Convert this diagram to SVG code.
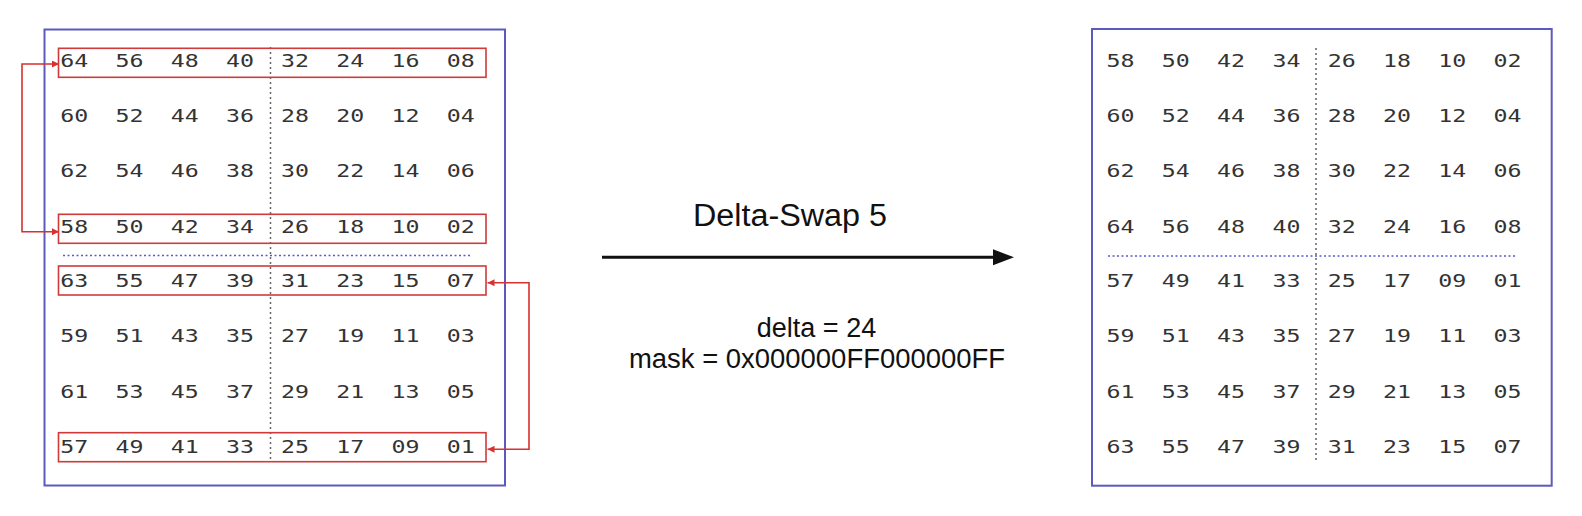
<svg xmlns="http://www.w3.org/2000/svg" width="1582" height="516" viewBox="0 0 1582 516">
<style>
.panel{fill:#fff;stroke:#5a5abf;stroke-width:2}
.sel{fill:none;stroke:#d03a3a;stroke-width:1.6}
.n{font-family:'DejaVu Sans Mono',monospace;font-size:18px;fill:#333}
.vd{stroke:#666;stroke-width:1.5;stroke-dasharray:2 3}
.hd{stroke:#5a5ad0;stroke-width:1.5;stroke-dasharray:2 2.5}
.red{fill:none;stroke:#d93030;stroke-width:1.6}
.lab{font-family:'Liberation Sans',Arial,sans-serif;fill:#111;text-anchor:middle}
</style>
<defs>
<marker id="rh" viewBox="0 0 10 10" refX="10" refY="5" markerWidth="7" markerHeight="7" orient="auto-start-reverse" markerUnits="userSpaceOnUse">
<path d="M0,0 L10,5 L0,10 z" fill="#d93030"/>
</marker>
</defs>
<rect width="1582" height="516" fill="#fff"/>

<g id="left-matrix">
<rect class="panel" x="44.5" y="29.5" width="460.5" height="456"/>
<line class="vd" x1="270.5" y1="47" x2="270.5" y2="462"/>
<line class="hd" x1="63" y1="255.5" x2="472" y2="255.5"/>
<rect class="sel" x="58.5" y="48.3" width="427.5" height="29"/>
<rect class="sel" x="58.5" y="214.3" width="427.5" height="29"/>
<rect class="sel" x="58.5" y="266" width="427.5" height="29"/>
<rect class="sel" x="58.5" y="432.7" width="427.5" height="29"/>
<g class="n">
<text x="60.3" y="66.7" textLength="28" lengthAdjust="spacingAndGlyphs">64</text><text x="115.5" y="66.7" textLength="28" lengthAdjust="spacingAndGlyphs">56</text><text x="170.7" y="66.7" textLength="28" lengthAdjust="spacingAndGlyphs">48</text><text x="225.9" y="66.7" textLength="28" lengthAdjust="spacingAndGlyphs">40</text><text x="281.1" y="66.7" textLength="28" lengthAdjust="spacingAndGlyphs">32</text><text x="336.3" y="66.7" textLength="28" lengthAdjust="spacingAndGlyphs">24</text><text x="391.5" y="66.7" textLength="28" lengthAdjust="spacingAndGlyphs">16</text><text x="446.7" y="66.7" textLength="28" lengthAdjust="spacingAndGlyphs">08</text>
<text x="60.3" y="121.7" textLength="28" lengthAdjust="spacingAndGlyphs">60</text><text x="115.5" y="121.7" textLength="28" lengthAdjust="spacingAndGlyphs">52</text><text x="170.7" y="121.7" textLength="28" lengthAdjust="spacingAndGlyphs">44</text><text x="225.9" y="121.7" textLength="28" lengthAdjust="spacingAndGlyphs">36</text><text x="281.1" y="121.7" textLength="28" lengthAdjust="spacingAndGlyphs">28</text><text x="336.3" y="121.7" textLength="28" lengthAdjust="spacingAndGlyphs">20</text><text x="391.5" y="121.7" textLength="28" lengthAdjust="spacingAndGlyphs">12</text><text x="446.7" y="121.7" textLength="28" lengthAdjust="spacingAndGlyphs">04</text>
<text x="60.3" y="177.2" textLength="28" lengthAdjust="spacingAndGlyphs">62</text><text x="115.5" y="177.2" textLength="28" lengthAdjust="spacingAndGlyphs">54</text><text x="170.7" y="177.2" textLength="28" lengthAdjust="spacingAndGlyphs">46</text><text x="225.9" y="177.2" textLength="28" lengthAdjust="spacingAndGlyphs">38</text><text x="281.1" y="177.2" textLength="28" lengthAdjust="spacingAndGlyphs">30</text><text x="336.3" y="177.2" textLength="28" lengthAdjust="spacingAndGlyphs">22</text><text x="391.5" y="177.2" textLength="28" lengthAdjust="spacingAndGlyphs">14</text><text x="446.7" y="177.2" textLength="28" lengthAdjust="spacingAndGlyphs">06</text>
<text x="60.3" y="232.9" textLength="28" lengthAdjust="spacingAndGlyphs">58</text><text x="115.5" y="232.9" textLength="28" lengthAdjust="spacingAndGlyphs">50</text><text x="170.7" y="232.9" textLength="28" lengthAdjust="spacingAndGlyphs">42</text><text x="225.9" y="232.9" textLength="28" lengthAdjust="spacingAndGlyphs">34</text><text x="281.1" y="232.9" textLength="28" lengthAdjust="spacingAndGlyphs">26</text><text x="336.3" y="232.9" textLength="28" lengthAdjust="spacingAndGlyphs">18</text><text x="391.5" y="232.9" textLength="28" lengthAdjust="spacingAndGlyphs">10</text><text x="446.7" y="232.9" textLength="28" lengthAdjust="spacingAndGlyphs">02</text>
<text x="60.3" y="287.2" textLength="28" lengthAdjust="spacingAndGlyphs">63</text><text x="115.5" y="287.2" textLength="28" lengthAdjust="spacingAndGlyphs">55</text><text x="170.7" y="287.2" textLength="28" lengthAdjust="spacingAndGlyphs">47</text><text x="225.9" y="287.2" textLength="28" lengthAdjust="spacingAndGlyphs">39</text><text x="281.1" y="287.2" textLength="28" lengthAdjust="spacingAndGlyphs">31</text><text x="336.3" y="287.2" textLength="28" lengthAdjust="spacingAndGlyphs">23</text><text x="391.5" y="287.2" textLength="28" lengthAdjust="spacingAndGlyphs">15</text><text x="446.7" y="287.2" textLength="28" lengthAdjust="spacingAndGlyphs">07</text>
<text x="60.3" y="342.2" textLength="28" lengthAdjust="spacingAndGlyphs">59</text><text x="115.5" y="342.2" textLength="28" lengthAdjust="spacingAndGlyphs">51</text><text x="170.7" y="342.2" textLength="28" lengthAdjust="spacingAndGlyphs">43</text><text x="225.9" y="342.2" textLength="28" lengthAdjust="spacingAndGlyphs">35</text><text x="281.1" y="342.2" textLength="28" lengthAdjust="spacingAndGlyphs">27</text><text x="336.3" y="342.2" textLength="28" lengthAdjust="spacingAndGlyphs">19</text><text x="391.5" y="342.2" textLength="28" lengthAdjust="spacingAndGlyphs">11</text><text x="446.7" y="342.2" textLength="28" lengthAdjust="spacingAndGlyphs">03</text>
<text x="60.3" y="397.9" textLength="28" lengthAdjust="spacingAndGlyphs">61</text><text x="115.5" y="397.9" textLength="28" lengthAdjust="spacingAndGlyphs">53</text><text x="170.7" y="397.9" textLength="28" lengthAdjust="spacingAndGlyphs">45</text><text x="225.9" y="397.9" textLength="28" lengthAdjust="spacingAndGlyphs">37</text><text x="281.1" y="397.9" textLength="28" lengthAdjust="spacingAndGlyphs">29</text><text x="336.3" y="397.9" textLength="28" lengthAdjust="spacingAndGlyphs">21</text><text x="391.5" y="397.9" textLength="28" lengthAdjust="spacingAndGlyphs">13</text><text x="446.7" y="397.9" textLength="28" lengthAdjust="spacingAndGlyphs">05</text>
<text x="60.3" y="452.9" textLength="28" lengthAdjust="spacingAndGlyphs">57</text><text x="115.5" y="452.9" textLength="28" lengthAdjust="spacingAndGlyphs">49</text><text x="170.7" y="452.9" textLength="28" lengthAdjust="spacingAndGlyphs">41</text><text x="225.9" y="452.9" textLength="28" lengthAdjust="spacingAndGlyphs">33</text><text x="281.1" y="452.9" textLength="28" lengthAdjust="spacingAndGlyphs">25</text><text x="336.3" y="452.9" textLength="28" lengthAdjust="spacingAndGlyphs">17</text><text x="391.5" y="452.9" textLength="28" lengthAdjust="spacingAndGlyphs">09</text><text x="446.7" y="452.9" textLength="28" lengthAdjust="spacingAndGlyphs">01</text>
</g>
</g>

<g id="right-matrix">
<rect class="panel" x="1092" y="29" width="459.7" height="456.7"/>
<line class="vd" x1="1316" y1="48" x2="1316" y2="462"/>
<line class="hd" x1="1108" y1="256" x2="1517" y2="256"/>
<g class="n">
<text x="1106.5" y="66.7" textLength="28" lengthAdjust="spacingAndGlyphs">58</text><text x="1161.8" y="66.7" textLength="28" lengthAdjust="spacingAndGlyphs">50</text><text x="1217.1" y="66.7" textLength="28" lengthAdjust="spacingAndGlyphs">42</text><text x="1272.4" y="66.7" textLength="28" lengthAdjust="spacingAndGlyphs">34</text><text x="1327.7" y="66.7" textLength="28" lengthAdjust="spacingAndGlyphs">26</text><text x="1383" y="66.7" textLength="28" lengthAdjust="spacingAndGlyphs">18</text><text x="1438.3" y="66.7" textLength="28" lengthAdjust="spacingAndGlyphs">10</text><text x="1493.6" y="66.7" textLength="28" lengthAdjust="spacingAndGlyphs">02</text>
<text x="1106.5" y="121.7" textLength="28" lengthAdjust="spacingAndGlyphs">60</text><text x="1161.8" y="121.7" textLength="28" lengthAdjust="spacingAndGlyphs">52</text><text x="1217.1" y="121.7" textLength="28" lengthAdjust="spacingAndGlyphs">44</text><text x="1272.4" y="121.7" textLength="28" lengthAdjust="spacingAndGlyphs">36</text><text x="1327.7" y="121.7" textLength="28" lengthAdjust="spacingAndGlyphs">28</text><text x="1383" y="121.7" textLength="28" lengthAdjust="spacingAndGlyphs">20</text><text x="1438.3" y="121.7" textLength="28" lengthAdjust="spacingAndGlyphs">12</text><text x="1493.6" y="121.7" textLength="28" lengthAdjust="spacingAndGlyphs">04</text>
<text x="1106.5" y="177.2" textLength="28" lengthAdjust="spacingAndGlyphs">62</text><text x="1161.8" y="177.2" textLength="28" lengthAdjust="spacingAndGlyphs">54</text><text x="1217.1" y="177.2" textLength="28" lengthAdjust="spacingAndGlyphs">46</text><text x="1272.4" y="177.2" textLength="28" lengthAdjust="spacingAndGlyphs">38</text><text x="1327.7" y="177.2" textLength="28" lengthAdjust="spacingAndGlyphs">30</text><text x="1383" y="177.2" textLength="28" lengthAdjust="spacingAndGlyphs">22</text><text x="1438.3" y="177.2" textLength="28" lengthAdjust="spacingAndGlyphs">14</text><text x="1493.6" y="177.2" textLength="28" lengthAdjust="spacingAndGlyphs">06</text>
<text x="1106.5" y="232.9" textLength="28" lengthAdjust="spacingAndGlyphs">64</text><text x="1161.8" y="232.9" textLength="28" lengthAdjust="spacingAndGlyphs">56</text><text x="1217.1" y="232.9" textLength="28" lengthAdjust="spacingAndGlyphs">48</text><text x="1272.4" y="232.9" textLength="28" lengthAdjust="spacingAndGlyphs">40</text><text x="1327.7" y="232.9" textLength="28" lengthAdjust="spacingAndGlyphs">32</text><text x="1383" y="232.9" textLength="28" lengthAdjust="spacingAndGlyphs">24</text><text x="1438.3" y="232.9" textLength="28" lengthAdjust="spacingAndGlyphs">16</text><text x="1493.6" y="232.9" textLength="28" lengthAdjust="spacingAndGlyphs">08</text>
<text x="1106.5" y="287.2" textLength="28" lengthAdjust="spacingAndGlyphs">57</text><text x="1161.8" y="287.2" textLength="28" lengthAdjust="spacingAndGlyphs">49</text><text x="1217.1" y="287.2" textLength="28" lengthAdjust="spacingAndGlyphs">41</text><text x="1272.4" y="287.2" textLength="28" lengthAdjust="spacingAndGlyphs">33</text><text x="1327.7" y="287.2" textLength="28" lengthAdjust="spacingAndGlyphs">25</text><text x="1383" y="287.2" textLength="28" lengthAdjust="spacingAndGlyphs">17</text><text x="1438.3" y="287.2" textLength="28" lengthAdjust="spacingAndGlyphs">09</text><text x="1493.6" y="287.2" textLength="28" lengthAdjust="spacingAndGlyphs">01</text>
<text x="1106.5" y="342.2" textLength="28" lengthAdjust="spacingAndGlyphs">59</text><text x="1161.8" y="342.2" textLength="28" lengthAdjust="spacingAndGlyphs">51</text><text x="1217.1" y="342.2" textLength="28" lengthAdjust="spacingAndGlyphs">43</text><text x="1272.4" y="342.2" textLength="28" lengthAdjust="spacingAndGlyphs">35</text><text x="1327.7" y="342.2" textLength="28" lengthAdjust="spacingAndGlyphs">27</text><text x="1383" y="342.2" textLength="28" lengthAdjust="spacingAndGlyphs">19</text><text x="1438.3" y="342.2" textLength="28" lengthAdjust="spacingAndGlyphs">11</text><text x="1493.6" y="342.2" textLength="28" lengthAdjust="spacingAndGlyphs">03</text>
<text x="1106.5" y="397.9" textLength="28" lengthAdjust="spacingAndGlyphs">61</text><text x="1161.8" y="397.9" textLength="28" lengthAdjust="spacingAndGlyphs">53</text><text x="1217.1" y="397.9" textLength="28" lengthAdjust="spacingAndGlyphs">45</text><text x="1272.4" y="397.9" textLength="28" lengthAdjust="spacingAndGlyphs">37</text><text x="1327.7" y="397.9" textLength="28" lengthAdjust="spacingAndGlyphs">29</text><text x="1383" y="397.9" textLength="28" lengthAdjust="spacingAndGlyphs">21</text><text x="1438.3" y="397.9" textLength="28" lengthAdjust="spacingAndGlyphs">13</text><text x="1493.6" y="397.9" textLength="28" lengthAdjust="spacingAndGlyphs">05</text>
<text x="1106.5" y="453.4" textLength="28" lengthAdjust="spacingAndGlyphs">63</text><text x="1161.8" y="453.4" textLength="28" lengthAdjust="spacingAndGlyphs">55</text><text x="1217.1" y="453.4" textLength="28" lengthAdjust="spacingAndGlyphs">47</text><text x="1272.4" y="453.4" textLength="28" lengthAdjust="spacingAndGlyphs">39</text><text x="1327.7" y="453.4" textLength="28" lengthAdjust="spacingAndGlyphs">31</text><text x="1383" y="453.4" textLength="28" lengthAdjust="spacingAndGlyphs">23</text><text x="1438.3" y="453.4" textLength="28" lengthAdjust="spacingAndGlyphs">15</text><text x="1493.6" y="453.4" textLength="28" lengthAdjust="spacingAndGlyphs">07</text>
</g>
</g>

<g id="connectors">
<path class="red" d="M59,64 H22 V231.7 H59" marker-start="url(#rh)" marker-end="url(#rh)"/>
<path class="red" d="M487.5,282.7 H529 V449.3 H487.5" marker-start="url(#rh)" marker-end="url(#rh)"/>
<line x1="602" y1="257.3" x2="995" y2="257.3" stroke="#111" stroke-width="3"/>
<polygon points="993,249.3 1014,257.3 993,265.3" fill="#111"/>
</g>

<g id="labels">
<text class="lab" x="790" y="226" font-size="31" textLength="194" lengthAdjust="spacingAndGlyphs">Delta-Swap 5</text>
<text class="lab" x="816.5" y="336.5" font-size="27">delta = 24</text>
<text class="lab" x="817" y="368" font-size="27" textLength="376" lengthAdjust="spacingAndGlyphs">mask = 0x000000FF000000FF</text>
</g>
</svg>
